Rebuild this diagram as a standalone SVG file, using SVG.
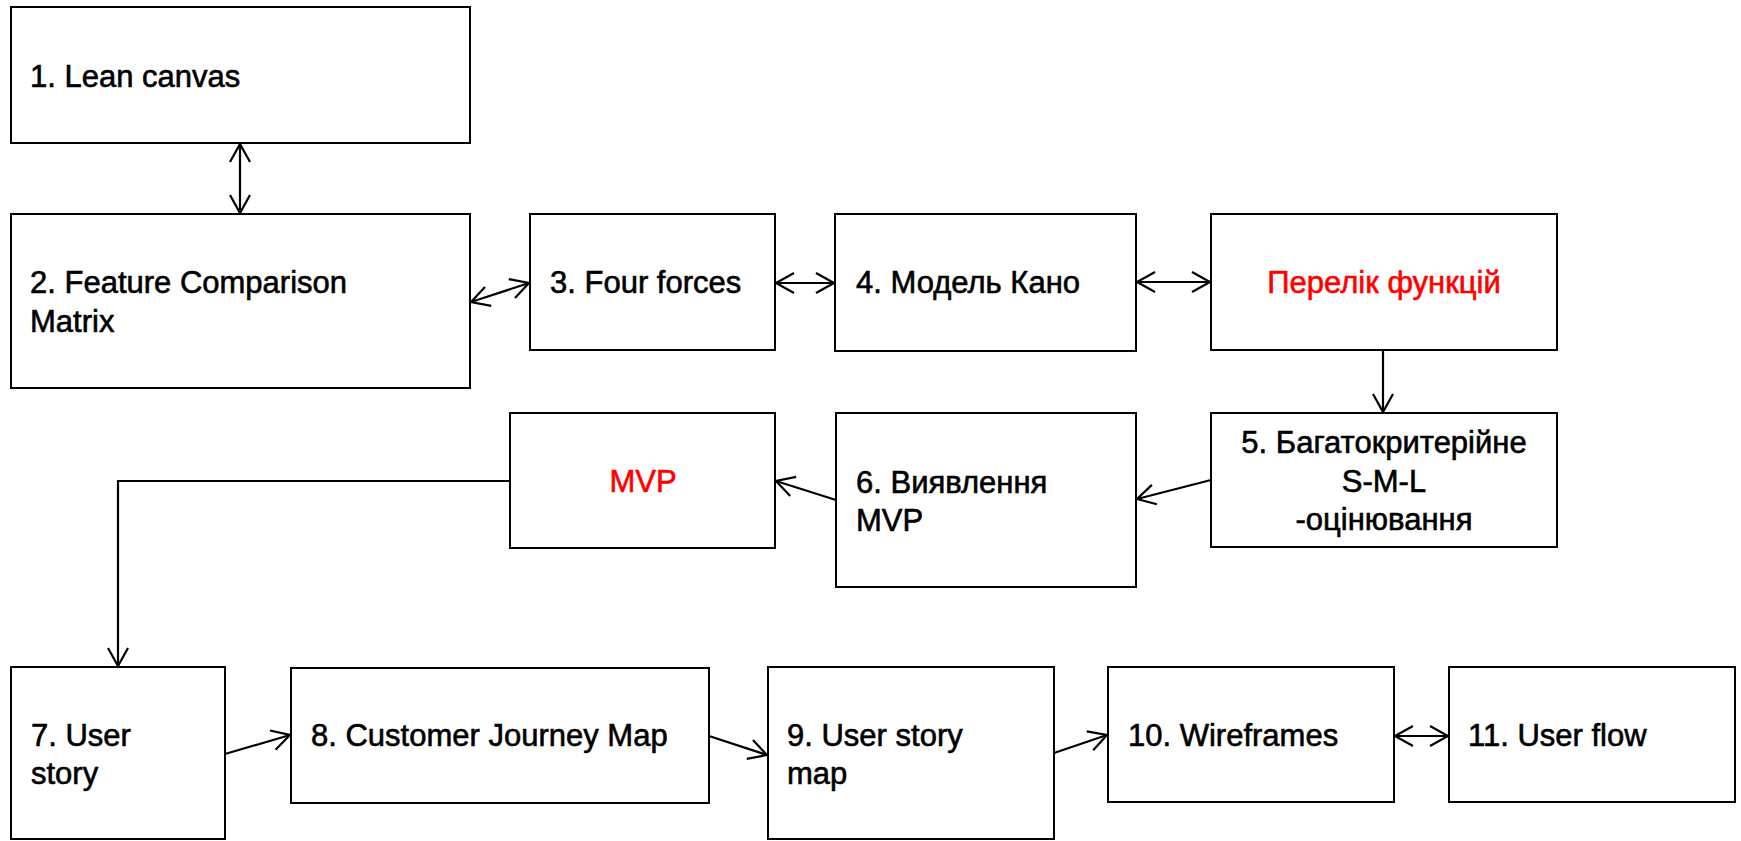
<svg xmlns="http://www.w3.org/2000/svg" width="1741" height="841" viewBox="0 0 1741 841">
  <style>
    .box { fill: #ffffff; stroke: #000000; stroke-width: 2; }
    .lbl { font-family: "Liberation Sans", Arial, sans-serif; font-size: 31px; fill: #000000; stroke: #000000; stroke-width: 0.6; }
    .red { fill: #ff0000; stroke: #ff0000; }
    .mid { text-anchor: middle; }
    .wire { fill: none; stroke: #000000; stroke-width: 2.2; }
    .one { marker-end: url(#head); }
    .two { marker-start: url(#head); marker-end: url(#head); }
  </style>
  <defs>
    <marker id="head" markerUnits="userSpaceOnUse" viewBox="-20 -12 22 24" markerWidth="22" markerHeight="24" refX="0" refY="0" orient="auto-start-reverse" overflow="visible">
      <path d="M-18,-10 L0,0 L-18,10" fill="none" stroke="#000000" stroke-width="2.2"/>
    </marker>
  </defs>
  <rect width="1741" height="841" fill="#ffffff"/>

  <g id="connectors">
    <line class="wire two" x1="240" y1="144" x2="240" y2="213"/>
    <line class="wire two" x1="471" y1="302" x2="529" y2="283"/>
    <line class="wire two" x1="776" y1="283" x2="834" y2="283"/>
    <line class="wire two" x1="1137" y1="282" x2="1210" y2="282"/>
    <line class="wire one" x1="1383" y1="351" x2="1383" y2="412"/>
    <line class="wire one" x1="1211" y1="480" x2="1137" y2="499"/>
    <line class="wire one" x1="836" y1="500" x2="776" y2="481"/>
    <path class="wire one" d="M510,481 H118 V666"/>
    <line class="wire one" x1="225" y1="754" x2="290" y2="735"/>
    <line class="wire one" x1="709" y1="736" x2="767" y2="755"/>
    <line class="wire one" x1="1054" y1="753" x2="1107" y2="735"/>
    <line class="wire two" x1="1395" y1="736" x2="1448" y2="736"/>
  </g>

  <g id="n1">
    <rect class="box" x="11" y="7" width="459" height="136"/>
    <text class="lbl" x="30" y="87">1. Lean canvas</text>
  </g>
  <g id="n2">
    <rect class="box" x="11" y="214" width="459" height="174"/>
    <text class="lbl" x="30" y="293">2. Feature Comparison</text>
    <text class="lbl" x="30" y="332">Matrix</text>
  </g>
  <g id="n3">
    <rect class="box" x="530" y="214" width="245" height="136"/>
    <text class="lbl" x="550" y="293">3. Four forces</text>
  </g>
  <g id="n4">
    <rect class="box" x="835" y="214" width="301" height="137"/>
    <text class="lbl" x="856" y="293">4. Модель Кано</text>
  </g>
  <g id="features">
    <rect class="box" x="1211" y="214" width="346" height="136"/>
    <text class="lbl red mid" x="1384" y="293">Перелік функцій</text>
  </g>
  <g id="n5">
    <rect class="box" x="1211" y="413" width="346" height="134"/>
    <text class="lbl mid" x="1384" y="453">5. Багатокритерійне</text>
    <text class="lbl mid" x="1384" y="492">S-M-L</text>
    <text class="lbl mid" x="1384" y="530">-оцінювання</text>
  </g>
  <g id="n6">
    <rect class="box" x="836" y="413" width="300" height="174"/>
    <text class="lbl" x="856" y="493">6. Виявлення</text>
    <text class="lbl" x="856" y="531">MVP</text>
  </g>
  <g id="mvp">
    <rect class="box" x="510" y="413" width="265" height="135"/>
    <text class="lbl red mid" x="643" y="492">MVP</text>
  </g>
  <g id="n7">
    <rect class="box" x="11" y="667" width="214" height="172"/>
    <text class="lbl" x="31" y="746">7. User</text>
    <text class="lbl" x="31" y="784">story</text>
  </g>
  <g id="n8">
    <rect class="box" x="291" y="668" width="418" height="135"/>
    <text class="lbl" x="311" y="746">8. Customer Journey Map</text>
  </g>
  <g id="n9">
    <rect class="box" x="768" y="667" width="286" height="172"/>
    <text class="lbl" x="787" y="746">9. User story</text>
    <text class="lbl" x="787" y="784">map</text>
  </g>
  <g id="n10">
    <rect class="box" x="1108" y="667" width="286" height="135"/>
    <text class="lbl" x="1128" y="746">10. Wireframes</text>
  </g>
  <g id="n11">
    <rect class="box" x="1449" y="667" width="286" height="135"/>
    <text class="lbl" x="1468" y="746">11. User flow</text>
  </g>
</svg>
